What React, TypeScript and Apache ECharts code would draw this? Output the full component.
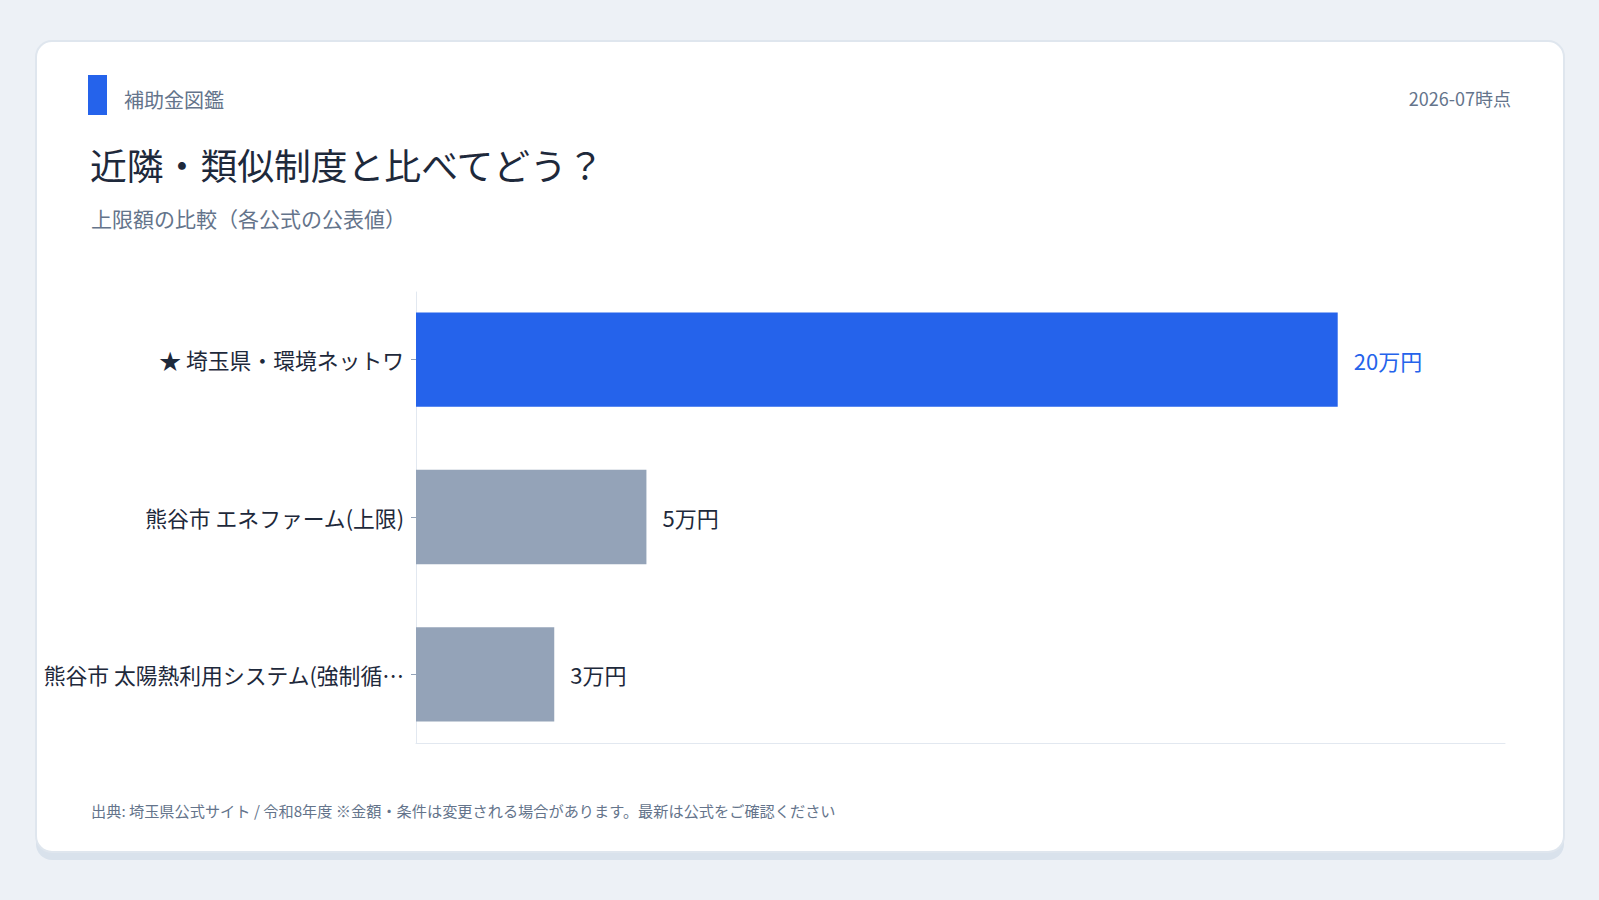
import React, { useEffect, useRef } from "react";
import * as echarts from "echarts";

const categories = [
  "★ 埼玉県・環境ネットワ",
  "熊谷市 エネファーム(上限)",
  "熊谷市 太陽熱利用システム(強制循環型)",
];
const values = [20, 5, 3]; // 万円
const valueLabels = ["20万円", "5万円", "3万円"];
const highlighted = [true, false, false];
const axisMax = 23.63;

const BLUE = "#2563eb";
const GRAY = "#94a3b8";
const DARK = "#1e293b";
const MUTED = "#64748b";
const FONT = '"Noto Sans CJK JP", "Noto Sans", sans-serif';

export default function App() {
  const ref = useRef<HTMLDivElement>(null);

  useEffect(() => {
    if (!ref.current) return;
    const chart = echarts.init(ref.current, undefined, { renderer: "svg" });
    const text = (t: string, x: number, y: number, size: number, fill: string, align = "left") => ({
      type: "text",
      z: 10,
      x,
      y,
      style: {
        text: t,
        fill,
        fontSize: size,
        fontFamily: FONT,
        align,
        verticalAlign: "middle",
      },
    });
    const option: any = {
      animation: false,
      backgroundColor: "#edf1f6",
      textStyle: { fontFamily: FONT },
      graphic: [
        {
          type: "rect",
          z: -10,
          shape: { x: 36, y: 48, width: 1528, height: 812, r: 16 },
          style: { fill: "#d9e2ec" },
          silent: true,
        },
        {
          type: "rect",
          z: -9,
          shape: { x: 36, y: 41, width: 1528, height: 811, r: 16 },
          style: { fill: "#ffffff", stroke: "#dfe6ee", lineWidth: 2 },
          silent: true,
        },
        {
          type: "rect",
          z: 10,
          shape: { x: 88, y: 75, width: 19, height: 40 },
          style: { fill: BLUE },
        },
        text("補助金図鑑", 124, 99, 20, MUTED),
        text("2026-07時点", 1511, 98, 18, MUTED, "right"),
        text("近隣・類似制度と比べてどう？", 90, 164, 36.8, DARK),
        text("上限額の比較（各公式の公表値）", 91, 218, 21, MUTED),
        text(
          "出典: 埼玉県公式サイト / 令和8年度 ※金額・条件は変更される場合があります。最新は公式をご確認ください",
          91,
          810,
          15.2,
          MUTED
        ),
      ],
      grid: [
        { left: 416, right: 94, top: 281, height: 472, containLabel: false },
        { left: 416, right: 94, top: 292, bottom: 157, containLabel: false },
      ],
      xAxis: [
        {
          gridIndex: 0,
          type: "value",
          min: 0,
          max: axisMax,
          show: false,
        },
        {
          gridIndex: 1,
          type: "value",
          min: 0,
          max: 1,
          axisLine: { show: true, onZero: false, lineStyle: { color: "#e2e8f0", width: 1 } },
          axisTick: { show: false },
          axisLabel: { show: false },
          splitLine: { show: false },
        },
      ],
      yAxis: [
        {
          gridIndex: 0,
          type: "category",
          data: categories,
          inverse: true,
          axisLine: { show: false },
          axisTick: { show: true, length: 5, alignWithLabel: true, lineStyle: { color: "#94a3b8" } },
          splitLine: { show: false },
          axisLabel: {
            color: DARK,
            fontSize: 21.8,
            fontFamily: FONT,
            margin: 12,
            width: 378,
            overflow: "truncate",
            ellipsis: "…",
            padding: [0, 0, 8, 0],
          },
        },
        {
          gridIndex: 1,
          type: "value",
          min: 0,
          max: 1,
          axisLine: { show: true, onZero: false, lineStyle: { color: "#e2e8f0", width: 1 } },
          axisTick: { show: false },
          axisLabel: { show: false },
          splitLine: { show: false },
        },
      ],
      series: [
        {
          type: "bar",
          xAxisIndex: 0,
          yAxisIndex: 0,
          barWidth: "60%",
          data: values.map((v, i) => ({
            value: v,
            itemStyle: { color: highlighted[i] ? BLUE : GRAY },
            label: { color: highlighted[i] ? BLUE : DARK },
          })),
          label: {
            show: true,
            position: "right",
            distance: 16,
            fontSize: 22,
            fontFamily: FONT,
            padding: [0, 0, 8, 0],
            formatter: (p: any) => valueLabels[p.dataIndex],
          },
        },
      ],
    };
    chart.setOption(option);
    return () => chart.dispose();
  }, []);

  return (
    <div
      ref={ref}
      style={{ position: "fixed", left: 0, top: 0, width: 1599, height: 900 }}
    />
  );
}
